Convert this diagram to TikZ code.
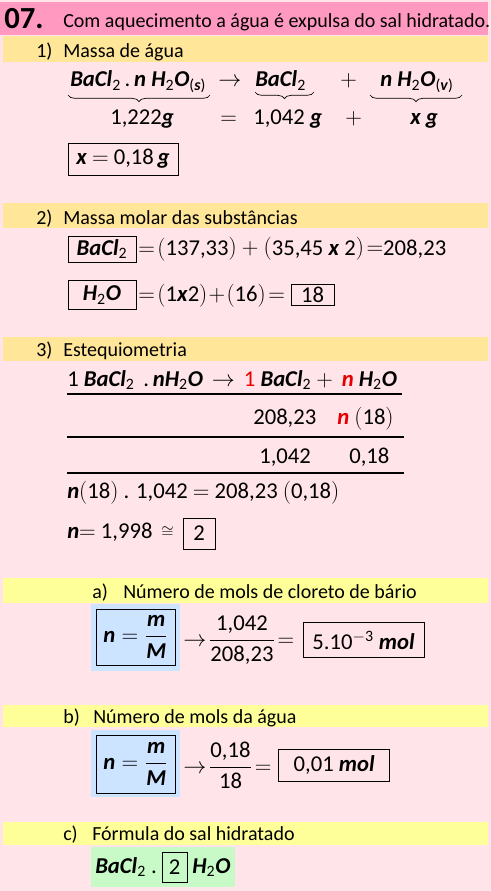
\documentclass[tikz,border=0pt]{standalone}
\usepackage{fontspec}
\setmainfont{Carlito}
\usetikzlibrary{decorations.pathreplacing,positioning}
\definecolor{fundo}{RGB}{255,229,233}
\definecolor{rosa}{RGB}{255,153,192}
\definecolor{laranja}{RGB}{255,230,153}
\definecolor{amarelo}{RGB}{255,255,153}
\definecolor{azul}{RGB}{204,228,255}
\definecolor{verde}{RGB}{200,250,200}
\definecolor{vermelho}{RGB}{230,0,0}
\newcommand{\qv}[1]{\textbf{\textit{#1}}}
\newcommand{\bacl}{\qv{BaCl}\textsubscript{2}}
\newcommand{\hdois}{\qv{H}\textsubscript{2}\qv{O}}
\tikzset{
  txt/.style={anchor=base west, inner sep=0pt, font=\fontsize{15}{18}\selectfont},
  eq/.style={anchor=base west, inner sep=0pt, font=\fontsize{17}{20}\selectfont},
  caixa/.style 2 args={draw, line width=0.7pt, inner sep=0pt,
    minimum width=#1*0.75pt, minimum height=#2*0.75pt,
    font=\fontsize{17}{20}\selectfont},
  regra/.style={line width=0.8pt},
  chave/.style={decorate, decoration={brace, mirror, amplitude=5pt}, line width=0.5pt},
}
\begin{document}
\begin{tikzpicture}[x=0.75pt, y=-0.75pt]
  \fill[fundo] (0,0) rectangle (491,891);
  \useasboundingbox (0,0) rectangle (491,891);
  % faixas de titulo
  \fill[rosa] (0,2) rectangle (488,35);
  \fill[laranja] (3,36) rectangle (488,62);
  \fill[laranja] (3,203) rectangle (488,228);
  \fill[laranja] (3,337) rectangle (488,361);
  \fill[amarelo] (3,578) rectangle (488,603);
  \fill[amarelo] (3,705) rectangle (488,727);
  \fill[amarelo] (3,822) rectangle (488,845);
  \fill[azul] (91,604) rectangle (180,671);
  \fill[azul] (91,730) rectangle (180,797);
  \fill[verde] (91,847) rectangle (235,887);

  \node[txt, font=\fontsize{23}{26}\selectfont\bfseries] (num) at (4,29) {07.};
  \node[txt] (enun) at (63,28) {Com aquecimento a água é expulsa do sal hidratado.};

  % 1) massa de agua
  \node[txt] (i1) at (36,58) {1)};
  \node[txt] (t1) at (63,58) {Massa de água};
  \node[eq] (hid) at (70,87) {\bacl\,.\,\qv{n} \hdois\textsubscript{(\qv{s})}};
  \node[eq] (s1) at (218,87) {$\rightarrow$};
  \node[eq] (anid) at (255,87) {\bacl};
  \node[eq] (p1) at (340,87) {$+$};
  \node[eq] (vap) at (380,87) {\qv{n} \hdois\textsubscript{(\qv{v})}};
  \draw[chave] (68,95) -- (210,95);
  \draw[chave] (255,92) -- (314,92);
  \draw[chave] (370,95) -- (462,95);
  \node[eq] (m1) at (110,125) {1,222\qv{g}};
  \node[eq] (s2) at (220,125) {$=$};
  \node[eq] (m2) at (253,125) {1,042 \qv{g}};
  \node[eq] (p2) at (345,125) {$+$};
  \node[eq] (m3) at (410,125) {\qv{x g}};
  \node[caixa={110}{32}] (rx) at (123,159) {\qv{x} $=$ 0,18\,\qv{g}};

  % 2) massa molar
  \node[txt] (i2) at (36,224) {2)};
  \node[txt] (t2) at (63,224) {Massa molar das substâncias};
  \node[caixa={68}{26}] (mb) at (102,249) {\bacl};
  \node[eq] (cb) at (138,255) {$=\!\big($137,33$\big)+\big($35,45 \qv{x} 2$\big)\!=$208,23};
  \node[caixa={68}{29}] (mh) at (102,295) {\hdois};
  \node[eq] (ch) at (138,301) {$=\!\big($1\qv{x}2$\big)\!+\!\big($16$\big)\!=$};
  \node[caixa={43}{21}, right=4pt of ch] (r18) {18};

  % 3) estequiometria
  \node[txt] (i3) at (36,356) {3)};
  \node[txt] (t3) at (63,356) {Estequiometria};
  \node[eq] (reac) at (67,386) {1 \bacl\ \,.\,\qv{n}\hdois\ \,$\rightarrow$\,
    {\color{vermelho}1} \bacl\ $+$\, {\color{vermelho}\qv{n}} \hdois};
  \draw[regra] (67,394) -- (402,394);
  \node[eq] (mm1) at (253,424) {208,23};
  \node[eq] (mm2) at (337,424) {{\color{vermelho}\qv{n}} $\big($18$\big)$};
  \draw[regra] (67,437) -- (404,437);
  \node[eq] (ma1) at (259,463) {1,042};
  \node[eq] (ma2) at (349,463) {0,18};
  \draw[regra] (67,473) -- (404,473);
  \node[eq] (prop) at (67,498) {\qv{n}$\big($18$\big)$ . 1,042 $=$ 208,23 $\big($0,18$\big)$};
  \node[eq] (res) at (67,538) {\qv{n}$=$ 1,998};
  \node[eq, font=\fontsize{13}{15}\selectfont] (aprox) at (161,537) {$\cong$};
  \node[caixa={32}{31}] (r2) at (199,533.5) {2};

  % a) mols de cloreto de bario
  \node[txt] (ia) at (92,598) {a)};
  \node[txt] (ta) at (123,598) {Número de mols de cloreto de bário};
  \node[caixa={79}{56}] (fa) at (135.5,637) {$\hbox{\qv{n}}\displaystyle=\frac{\hbox{\qv{m}}}{\hbox{\qv{M}}}$};
  \node[eq] (ca) at (183,646) {$\displaystyle\rightarrow\!\frac{\hbox{1,042}}{\hbox{208,23}}\!=$};
  \node[caixa={121}{35}, right=6pt of ca] (ra) {5.10\textsuperscript{$-$3} \qv{mol}};

  % b) mols da agua
  \node[txt] (ib) at (63,723) {b)};
  \node[txt] (tb) at (93,723) {Número de mols da água};
  \node[caixa={79}{58}] (fb) at (135.5,764) {$\hbox{\qv{n}}\displaystyle=\frac{\hbox{\qv{m}}}{\hbox{\qv{M}}}$};
  \node[eq] (cbb) at (183,773) {$\displaystyle\rightarrow\!\frac{\hbox{0,18}}{\hbox{18}}\!=$};
  \node[caixa={111}{32}, right=5pt of cbb] (rb) {0,01 \qv{mol}};

  % c) formula do sal
  \node[txt] (ic) at (63,840) {c)};
  \node[txt] (tc) at (92,840) {Fórmula do sal hidratado};
  \node[eq] (fc1) at (95,873) {\bacl\ .};
  \node[caixa={25}{30}] (rc) at (174.5,867) {2};
  \node[eq] (fc2) at (192,873) {\hdois};
\end{tikzpicture}
\end{document}
